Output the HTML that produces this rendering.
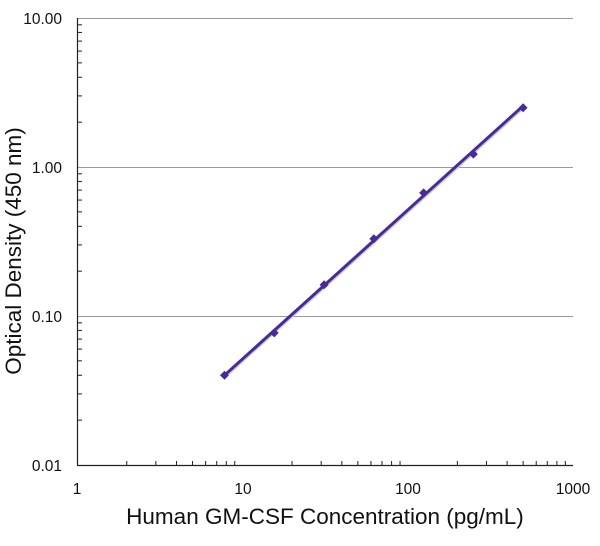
<!DOCTYPE html>
<html><head><meta charset="utf-8"><style>
body{margin:0;background:#fff;width:600px;height:541px;overflow:hidden}
text{font-family:"Liberation Sans",sans-serif;fill:#111}
</style></head><body>
<svg id="s" width="600" height="541" xmlns="http://www.w3.org/2000/svg">
<g id="grid" stroke="#999" stroke-width="1">
<line x1="77" y1="18.5" x2="573" y2="18.5"/>
<line x1="77" y1="167.5" x2="573" y2="167.5"/>
<line x1="77" y1="316.5" x2="573" y2="316.5"/>
</g>
<g id="ticks" stroke="#222" stroke-width="1"></g>
<line x1="77.5" y1="18" x2="77.5" y2="465" stroke="#222" stroke-width="1.2"/>
<line x1="77" y1="465.5" x2="573" y2="465.5" stroke="#222" stroke-width="1.2"/>
<g font-size="15.5" text-anchor="end">
<text x="62" y="24">10.00</text>
<text x="62" y="173">1.00</text>
<text x="62" y="322">0.10</text>
<text x="62" y="471">0.01</text>
</g>
<g font-size="15.5" text-anchor="middle">
<text x="77" y="494">1</text>
<text x="243" y="494">10</text>
<text x="408" y="494">100</text>
<text x="573" y="494">1000</text>
</g>
<text x="325" y="524" font-size="22.5" text-anchor="middle">Human GM-CSF Concentration (pg/mL)</text>
<text transform="translate(21,251) rotate(-90)" font-size="22.5" text-anchor="middle">Optical Density (450 nm)</text>
<line x1="225.5" y1="376.5" x2="524" y2="107.5" stroke="#ccc" stroke-width="2.5"/>
<line x1="224.5" y1="375.3" x2="523" y2="106" stroke="#4a2a9a" stroke-width="3"/>
<g id="pts" fill="#4a2a9a"></g>
</svg>
<script>
var X=function(v){return 77+165.3*Math.log10(v)},Y=function(v){return 465-149*Math.log10(v/0.01)};
var t=document.getElementById('ticks'),h='';
for(var d=0;d<3;d++)for(var k=2;k<10;k++){var x=X(k*Math.pow(10,d));h+='<line x1="'+x+'" y1="465" x2="'+x+'" y2="461"/>';}
for(var d=0;d<3;d++)for(var k=2;k<10;k++){var y=Y(0.01*k*Math.pow(10,d));h+='<line x1="77" y1="'+y+'" x2="82" y2="'+y+'"/>';}
t.innerHTML=h;
var p=[[7.8,0.04],[15.6,0.077],[31.25,0.162],[62.5,0.33],[125,0.67],[250,1.22],[500,2.5]],g='';
p.forEach(function(a){var x=X(a[0]),y=Y(a[1]);g+='<polygon points="'+x+','+(y-4.5)+' '+(x+4.5)+','+y+' '+x+','+(y+4.5)+' '+(x-4.5)+','+y+'"/>';});
document.getElementById('pts').innerHTML=g;
</script>
</body></html>
